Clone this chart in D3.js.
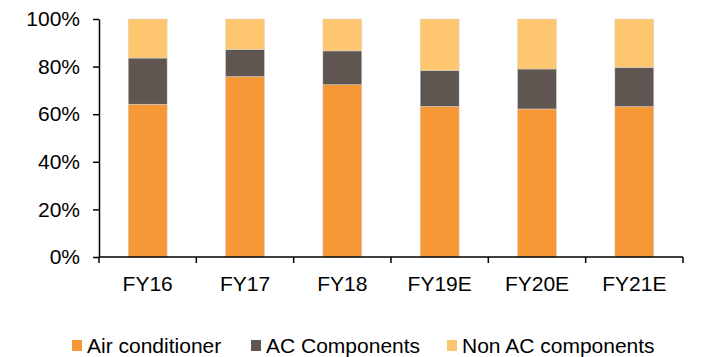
<!DOCTYPE html>
<html><head><meta charset="utf-8">
<script src="https://cdn.jsdelivr.net/npm/d3@7"></script>
<style>html,body{margin:0;padding:0;background:#fff;}svg{display:block;font-family:"Liberation Sans",Arial,sans-serif;}</style>
</head><body>
<svg id="chart" width="714" height="357"></svg>
<script>
const categories = ["FY16","FY17","FY18","FY19E","FY20E","FY21E"];
const airConditioner = [64.2, 75.8, 72.4, 63.3, 62.2, 63.2];
const acComponents   = [19.4, 11.4, 14.2, 15.1, 16.8, 16.5];
const nonAcComponents= [16.4, 12.8, 13.4, 21.6, 21.0, 20.3];
const seriesNames = ["Air conditioner","AC Components","Non AC components"];
const yTicks = [0,20,40,60,80,100];

const colors = ["#F79837","#5F5651","#FEC66E"];
const svg = d3.select("#chart");
const mLeft = 99, mRight = 683, mTop = 19, mBottom = 257;
const fs = "21px";

const x = d3.scaleBand().domain(categories).range([mLeft,mRight]).paddingInner(0.6).paddingOuter(0.3);
const y = d3.scaleLinear().domain([0,100]).range([mBottom,mTop]);

const rows = categories.map((c,i)=>({cat:c, s0:airConditioner[i], s1:acComponents[i], s2:nonAcComponents[i]}));
const stack = d3.stack().keys(["s0","s1","s2"])(rows);

svg.append("g").selectAll("g").data(stack).join("g")
  .attr("fill",(d,i)=>colors[i])
  .selectAll("rect").data(d=>d).join("rect")
  .attr("x",d=>x(d.data.cat))
  .attr("width",x.bandwidth())
  .attr("y",d=>y(Math.min(d[1],100)))
  .attr("height",d=>y(d[0])-y(Math.min(d[1],100)))
  .attr("stroke","#d6d6d6").attr("stroke-width",0.5);

// y axis
const yAxis = svg.append("g").attr("transform",`translate(${mLeft},0)`)
  .call(d3.axisLeft(y).tickValues(yTicks).tickFormat(d=>d+"%").tickSize(6).tickSizeOuter(0).tickPadding(13));
yAxis.select(".domain").attr("stroke","#000").attr("stroke-width",1.5);
yAxis.selectAll(".tick line").attr("stroke","#000").attr("stroke-width",1.5);
yAxis.selectAll("text").attr("font-size",fs).attr("fill","#000").attr("font-family","Liberation Sans, Arial, sans-serif");

// x axis
const xAxis = svg.append("g").attr("transform",`translate(0,${mBottom})`)
  .call(d3.axisBottom(x).tickSize(0).tickSizeOuter(0).tickPadding(19));
xAxis.select(".domain").remove();
xAxis.selectAll("text").attr("font-size",fs).attr("fill","#000").attr("font-family","Liberation Sans, Arial, sans-serif");
svg.append("line").attr("x1",mLeft).attr("x2",mRight).attr("y1",mBottom).attr("y2",mBottom).attr("stroke","#000").attr("stroke-width",1.5);
const step = x.step();
const bounds = categories.map(c=>x(c)-x.paddingOuter()*step).concat([mRight]);
svg.append("g").selectAll("line").data(bounds).join("line")
  .attr("x1",d=>d).attr("x2",d=>d).attr("y1",mBottom).attr("y2",mBottom+6)
  .attr("stroke","#000").attr("stroke-width",1.5);

// legend
const legendX = [72, 251, 447];
const lg = svg.append("g").selectAll("g").data(seriesNames).join("g")
  .attr("transform",(d,i)=>`translate(${legendX[i]},340)`);
lg.append("rect").attr("width",10).attr("height",11).attr("fill",(d,i)=>colors[i]);
lg.append("text").attr("x",15).attr("y",13).attr("font-size",fs).attr("fill","#000").text(d=>d);
</script>
</body></html>
